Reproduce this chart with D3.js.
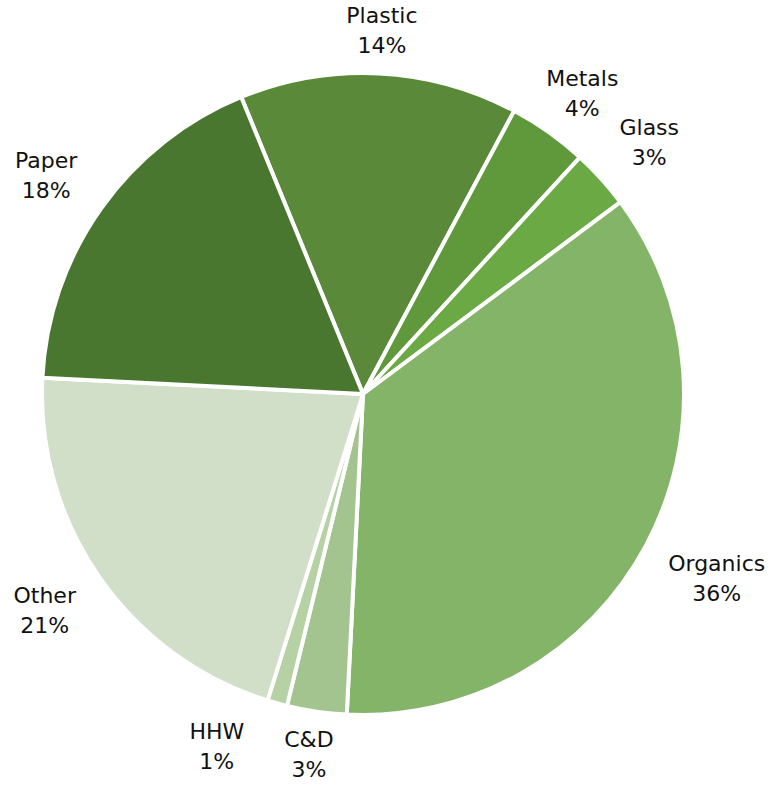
<!DOCTYPE html>
<html>
<head>
<meta charset="utf-8">
<script src="https://cdn.jsdelivr.net/npm/d3@7"></script>
<style>
  html, body { margin: 0; padding: 0; background: #ffffff; }
  svg { display: block; }
  text { font-family: "DejaVu Sans", sans-serif; font-size: 22px; fill: #111111; }
</style>
</head>
<body>
<svg id="chart" width="776" height="786"></svg>
<script>
// Waste composition by material (percent of total)
const categories = ["Plastic", "Metals", "Glass", "Organics", "C&D", "HHW", "Other", "Paper"];
const shares     = [14, 4, 3, 36, 3, 1, 21, 18];
const colors     = ["#5a8a39", "#5f993c", "#6aa943", "#84b468", "#a3c48f", "#b6d2a4", "#d1dfc8", "#4a7730"];

const width = 776, height = 786;
const cx = 363, cy = 394, radius = 321;
const firstSliceAngle = -22.3 * Math.PI / 180;

const svg = d3.select("#chart");
const g = svg.append("g").attr("transform", `translate(${cx},${cy})`);

const rows = categories.map((name, i) => ({ name, value: shares[i], color: colors[i] }));

const pie = d3.pie()
  .sort(null)
  .value(d => d.value)
  .startAngle(firstSliceAngle)
  .endAngle(firstSliceAngle + 2 * Math.PI);

const arc = d3.arc().innerRadius(0).outerRadius(radius);
const arcs = pie(rows);

g.selectAll("path.slice")
  .data(arcs)
  .join("path")
  .attr("class", "slice")
  .attr("d", arc)
  .attr("fill", d => d.data.color)
  .attr("stroke", "#ffffff")
  .attr("stroke-width", 4)
  .attr("stroke-linejoin", "round");

// Outside-end labels: the box edge nearest the pie sits on a ring just outside it
const labelRing = radius + 19;
const sidePad = 10;
const lineGap = 30;
const halfH = 24;

const labels = g.selectAll("g.label")
  .data(arcs)
  .join("g")
  .attr("class", "label");

labels.append("text")
  .attr("text-anchor", "middle")
  .attr("y", -lineGap / 2 + 8)
  .text(d => d.data.name);
labels.append("text")
  .attr("text-anchor", "middle")
  .attr("y", lineGap / 2 + 8)
  .text(d => d.data.value + "%");

const boxes = [];
labels.each(function (d) {
  const w = d3.max(d3.select(this).selectAll("text").nodes(), n => n.getComputedTextLength());
  const a = (d.startAngle + d.endAngle) / 2;
  const s = Math.sin(a), c = -Math.cos(a);
  const px = labelRing * s, py = labelRing * c;
  const t = Math.min(
    Math.abs(s) > 1e-6 ? (w / 2) / Math.abs(s) : Infinity,
    Math.abs(c) > 1e-6 ? halfH / Math.abs(c) : Infinity
  );
  boxes.push({ node: this, d, w, x: px + t * s + sidePad * s, y: py + t * c });
});

// Push small-slice labels sideways when they crowd a neighbour
const pad = 40;
for (let i = 0; i < boxes.length; i++) {
  for (let j = 0; j < boxes.length; j++) {
    if (i === j) continue;
    const A = boxes[i], B = boxes[j];
    if (A.d.value > B.d.value) continue;
    if (A.d.value === B.d.value && i < j) continue;
    const overlapY = Math.abs(A.y - B.y) < 2 * halfH;
    const need = (A.w + B.w) / 2 + pad;
    if (overlapY && Math.abs(A.x - B.x) < need) {
      A.x = A.x < B.x ? B.x - need : B.x + need;
    }
  }
}

boxes.forEach(b => d3.select(b.node).attr("transform", `translate(${b.x},${b.y})`));
</script>
</body>
</html>
